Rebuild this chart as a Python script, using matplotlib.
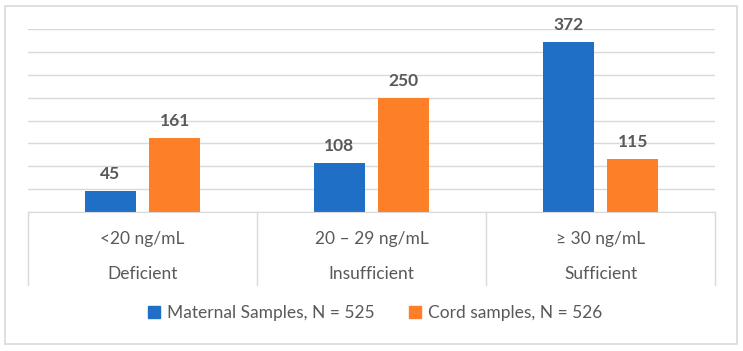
import matplotlib.pyplot as plt
from matplotlib.patches import Rectangle, Patch

ranges = ['<20 ng/mL', '20 \u2013 29 ng/mL', '\u2265 30 ng/mL']
status = ['Deficient', 'Insufficient', 'Sufficient']
maternal = [45, 108, 372]
cord = [161, 250, 115]
series_names = ['Maternal Samples, N = 525', 'Cord samples, N = 526']

BLUE = '#1F6FC6'
ORANGE = '#FD7F27'
GREY_TXT = '#595959'
GRID = '#D9D9D9'

plt.rcParams['font.family'] = ['Lato', 'DejaVu Sans']

W, H = 743, 351
fig = plt.figure(figsize=(W / 100, H / 100), dpi=100)

# outer border of the chart area
fig.patches.append(Rectangle((5 / W, 1 - 344 / H), 732 / W, 338 / H,
                             transform=fig.transFigure, fill=False,
                             edgecolor=GRID, linewidth=1.2))

ax = fig.add_axes([28 / W, 1 - 212 / H, 687 / W, 183 / H])
x = list(range(len(ranges)))
bw = 0.223
off = 0.1415
b1 = ax.bar([i - off for i in x], maternal, bw, color=BLUE)
b2 = ax.bar([i + off for i in x], cord, bw, color=ORANGE)

for bars, vals in ((b1, maternal), (b2, cord)):
    for b, v in zip(bars, vals):
        ax.annotate(str(v), (b.get_x() + b.get_width() / 2, v),
                    xytext=(0, 6.5), textcoords='offset points',
                    ha='center', va='bottom', fontsize=12.5,
                    fontweight='bold', color=GREY_TXT)

ax.set_xlim(-0.5, 2.5)
ax.set_ylim(0, 400)
ax.set_yticks(range(0, 401, 50))
ax.yaxis.grid(True, color=GRID, linewidth=1)
ax.set_axisbelow(True)
ax.tick_params(left=False, bottom=False, labelleft=False, labelbottom=False)
for s in ['left', 'right', 'top']:
    ax.spines[s].set_visible(False)
ax.spines['bottom'].set_color(GRID)

# category table under the axis
tbl_bot = (212 - 285) / 183
for xv in [-0.5, 0.5, 1.5, 2.5]:
    ax.plot([xv, xv], [0, tbl_bot], color=GRID, linewidth=1,
            transform=ax.get_xaxis_transform(), clip_on=False)
for i in x:
    ax.text(i, (212 - 239) / 183, ranges[i], transform=ax.get_xaxis_transform(),
            ha='center', va='center', fontsize=12.5, color=GREY_TXT)
    ax.text(i, (212 - 274) / 183, status[i], transform=ax.get_xaxis_transform(),
            ha='center', va='center', fontsize=12.5, color=GREY_TXT)

handles = [Patch(color=BLUE), Patch(color=ORANGE)]
fig.legend(handles, series_names, loc='center', ncol=2,
           bbox_to_anchor=(375 / W, 1 - 313 / H), frameon=False,
           handlelength=0.7, handleheight=0.7, handletextpad=0.4,
           columnspacing=2.0, labelcolor=GREY_TXT, prop={'size': 12.5})

fig.savefig('out.png', dpi=100)
